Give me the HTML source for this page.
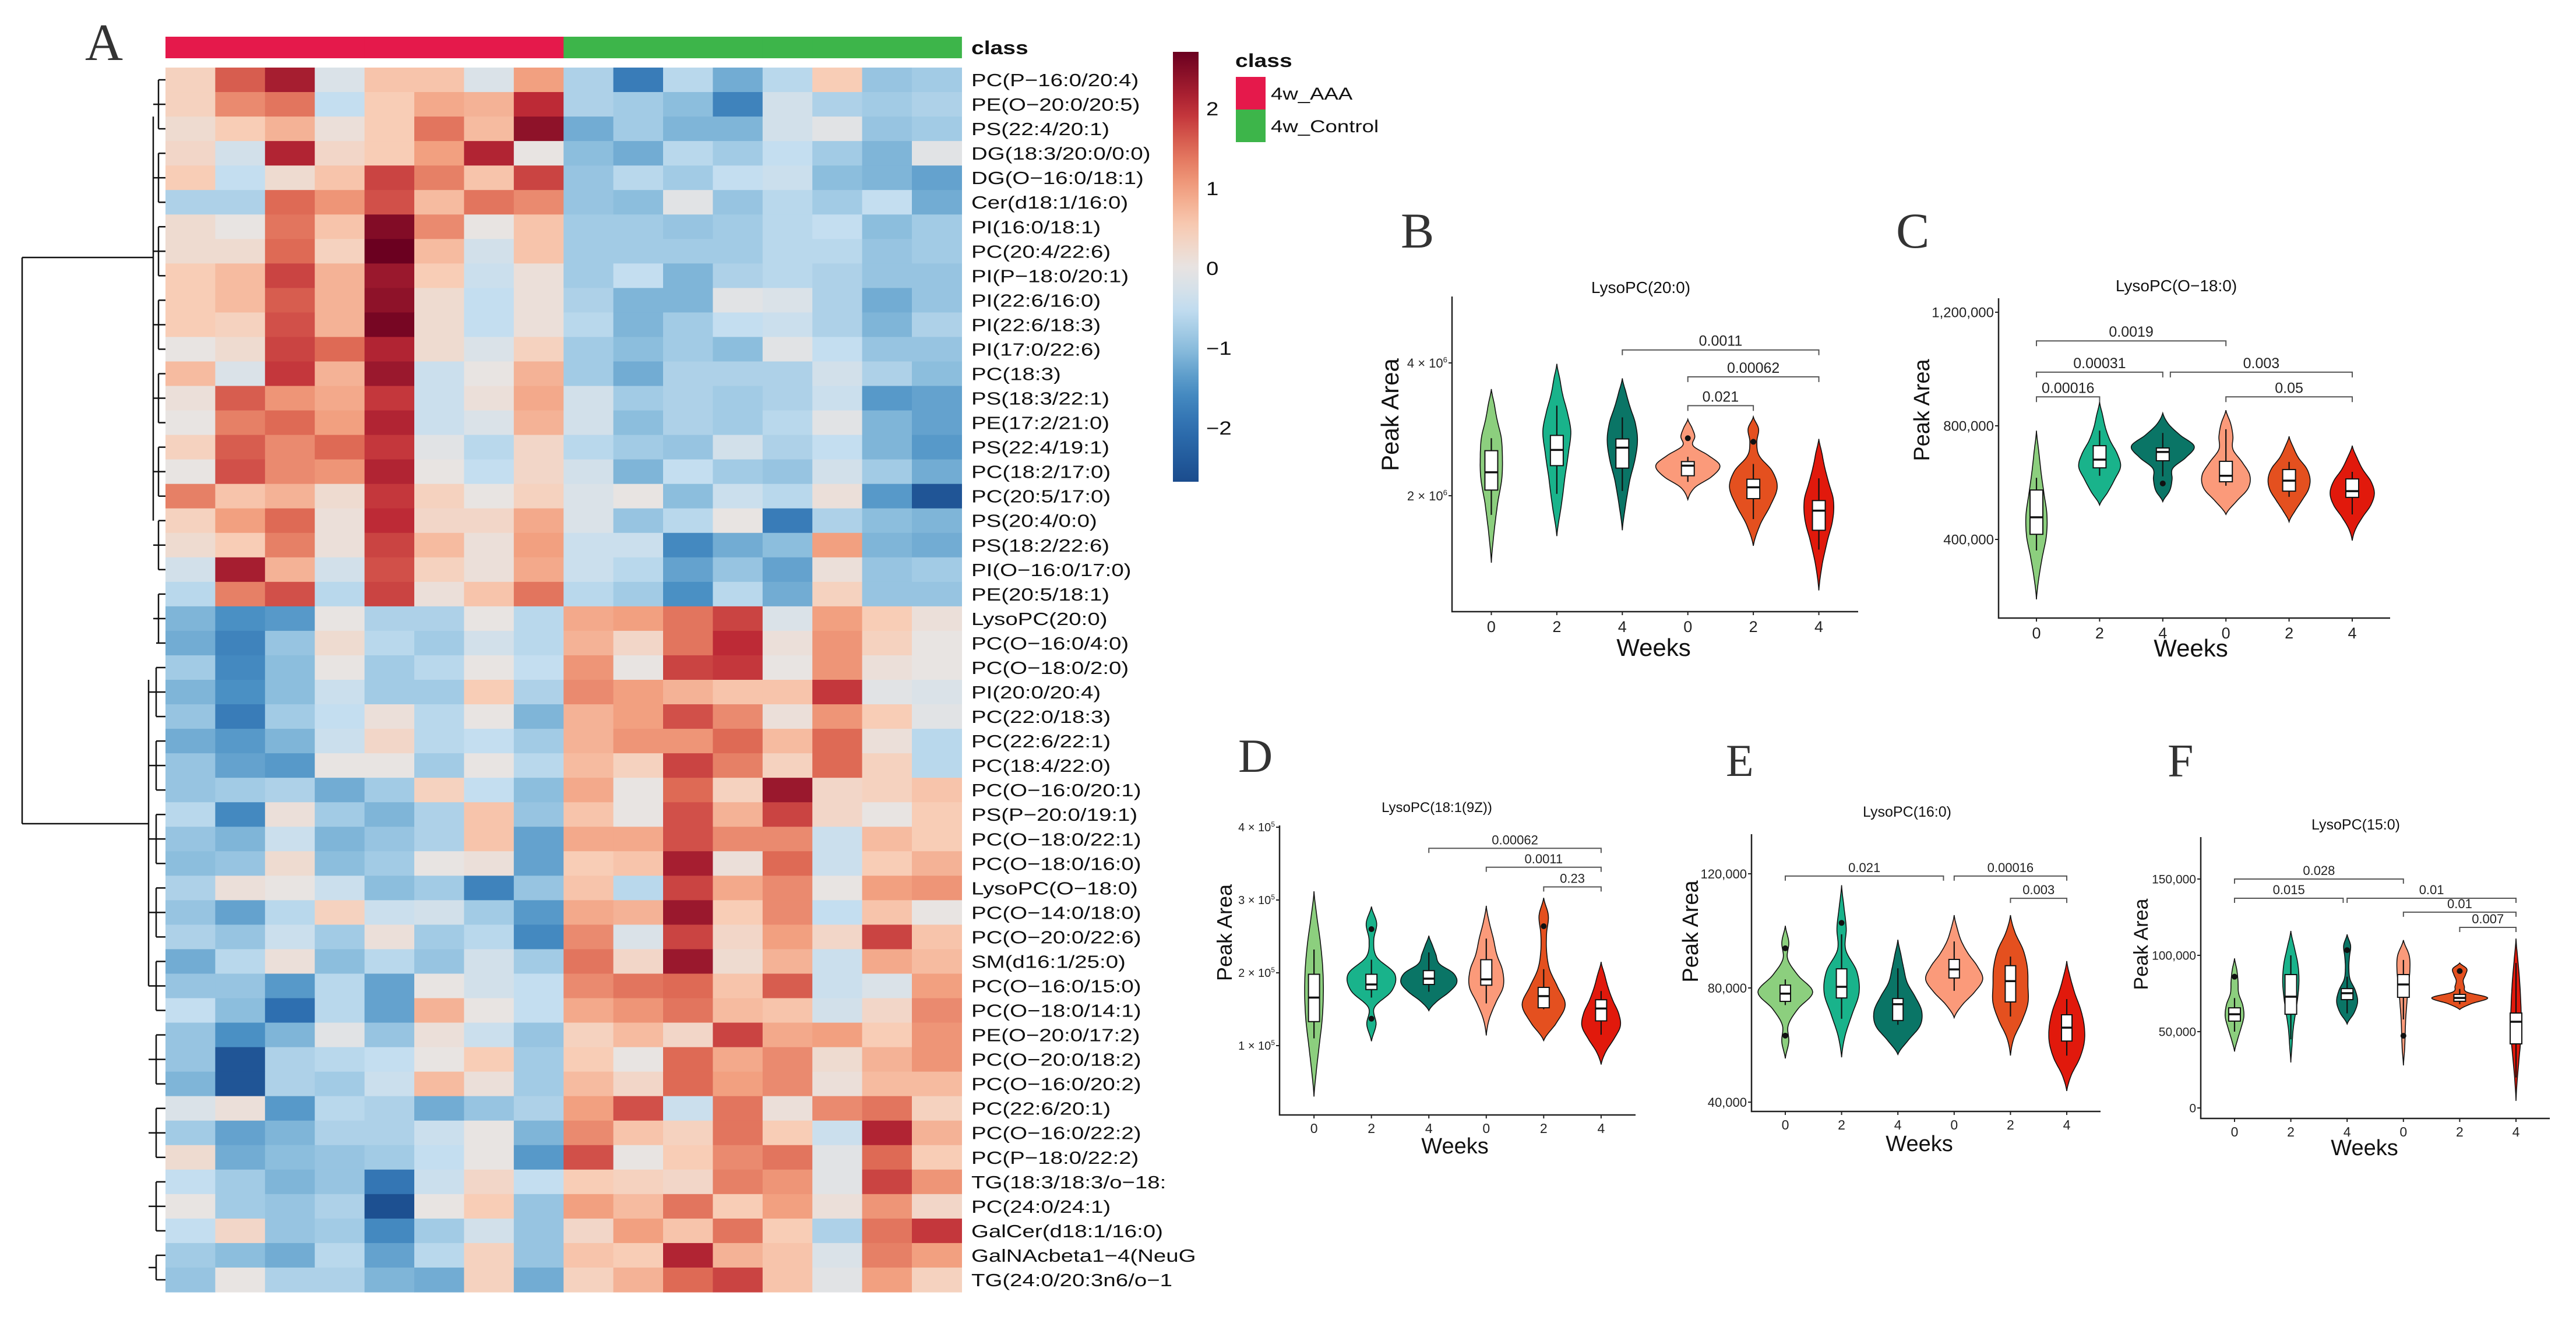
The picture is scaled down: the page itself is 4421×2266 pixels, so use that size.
<!DOCTYPE html>
<html><head><meta charset="utf-8">
<style>
html,body{margin:0;padding:0;background:#fff;}
svg{display:block;font-family:"Liberation Sans",sans-serif;}
</style></head>
<body>
<svg id="fig" xmlns="http://www.w3.org/2000/svg" width="4421" height="2266" viewBox="0 0 4421 2266">
<rect x="0" y="0" width="4421" height="2266" fill="#fff"/>
<g id="heat"></g>
<g id="panels"></g>
</svg>
<script>
// ===== Heatmap data =====
const rowLabels = ["PC(P−16:0/20:4)","PE(O−20:0/20:5)","PS(22:4/20:1)","DG(18:3/20:0/0:0)","DG(O−16:0/18:1)","Cer(d18:1/16:0)","PI(16:0/18:1)","PC(20:4/22:6)","PI(P−18:0/20:1)","PI(22:6/16:0)","PI(22:6/18:3)","PI(17:0/22:6)","PC(18:3)","PS(18:3/22:1)","PE(17:2/21:0)","PS(22:4/19:1)","PC(18:2/17:0)","PC(20:5/17:0)","PS(20:4/0:0)","PS(18:2/22:6)","PI(O−16:0/17:0)","PE(20:5/18:1)","LysoPC(20:0)","PC(O−16:0/4:0)","PC(O−18:0/2:0)","PI(20:0/20:4)","PC(22:0/18:3)","PC(22:6/22:1)","PC(18:4/22:0)","PC(O−16:0/20:1)","PS(P−20:0/19:1)","PC(O−18:0/22:1)","PC(O−18:0/16:0)","LysoPC(O−18:0)","PC(O−14:0/18:0)","PC(O−20:0/22:6)","SM(d16:1/25:0)","PC(O−16:0/15:0)","PC(O−18:0/14:1)","PE(O−20:0/17:2)","PC(O−20:0/18:2)","PC(O−16:0/20:2)","PC(22:6/20:1)","PC(O−16:0/22:2)","PC(P−18:0/22:2)","TG(18:3/18:3/o−18:","PC(24:0/24:1)","GalCer(d18:1/16:0)","GalNAcbeta1−4(NeuG","TG(24:0/20:3n6/o−1"];
const sampleClass = ["AAA","AAA","AAA","AAA","AAA","AAA","AAA","AAA","Control","Control","Control","Control","Control","Control","Control","Control"];
const heatValues = [
[0.4,1.6,2.2,-0.2,0.6,0.6,-0.2,1.0,-0.7,-1.8,-0.6,-1.2,-0.6,0.5,-0.9,-0.8],
[0.4,1.2,1.4,-0.5,0.5,0.9,0.8,2.0,-0.7,-0.8,-1.0,-1.7,-0.3,-0.7,-0.8,-0.7],
[0.2,0.5,0.8,0.1,0.5,1.4,0.7,2.4,-1.2,-0.8,-1.1,-1.1,-0.3,-0.1,-0.9,-0.8],
[0.3,-0.3,2.1,0.3,0.5,1.0,2.1,0.0,-1.0,-1.2,-0.6,-0.8,-0.5,-0.8,-1.1,-0.1],
[0.5,-0.5,0.2,0.6,1.8,1.3,0.6,1.8,-0.9,-0.6,-0.8,-0.5,-0.4,-1.0,-1.1,-1.3],
[-0.7,-0.7,1.5,1.1,1.7,0.7,1.4,1.2,-0.9,-1.0,-0.1,-0.9,-0.6,-0.8,-0.5,-1.2],
[0.2,0.0,1.4,0.6,2.5,1.2,0.0,0.6,-0.8,-0.8,-0.9,-0.8,-0.6,-0.5,-1.0,-0.8],
[0.2,0.2,1.5,0.4,2.7,0.7,-0.3,0.6,-0.8,-0.8,-0.8,-0.8,-0.6,-0.6,-0.9,-0.8],
[0.5,0.7,1.8,0.8,2.3,0.5,-0.4,0.1,-0.8,-0.5,-1.1,-0.7,-0.6,-0.7,-0.9,-0.9],
[0.5,0.7,1.6,0.8,2.4,0.2,-0.5,0.1,-0.7,-1.1,-1.1,-0.1,-0.2,-0.7,-1.2,-0.9],
[0.5,0.4,1.7,0.8,2.6,0.2,-0.5,0.1,-0.6,-1.1,-0.8,-0.5,-0.4,-0.7,-1.1,-0.7],
[0.0,0.2,1.8,1.5,2.1,0.2,-0.2,0.4,-0.8,-1.0,-0.8,-1.0,-0.1,-0.5,-0.9,-0.9],
[0.7,-0.2,1.9,0.8,2.3,-0.4,0.0,0.8,-0.8,-1.2,-0.7,-0.7,-0.7,-0.3,-0.7,-1.0],
[0.1,1.6,1.1,0.9,1.9,-0.4,0.1,0.9,-0.3,-0.8,-0.7,-0.8,-0.7,-0.4,-1.4,-1.3],
[0.0,1.3,1.5,1.0,2.1,-0.4,-0.2,0.8,-0.3,-1.0,-0.7,-0.8,-0.6,-0.1,-1.1,-1.3],
[0.4,1.6,1.2,1.5,1.9,-0.1,-0.6,0.3,-0.6,-0.8,-0.9,-0.3,-0.7,-0.5,-1.1,-1.4],
[0.0,1.7,1.2,1.1,2.1,0.0,-0.5,0.3,-0.3,-1.1,-0.5,-0.8,-0.9,-0.3,-0.8,-1.2],
[1.3,0.6,0.8,0.2,1.9,0.4,0.0,0.4,-0.2,0.0,-1.0,-0.4,-0.6,0.1,-1.4,-2.5],
[0.4,1.0,1.5,0.1,2.0,0.3,0.3,0.9,-0.2,-0.9,-0.6,0.0,-1.8,-0.7,-1.0,-1.1],
[0.2,0.5,1.3,0.1,1.8,0.7,0.1,1.0,-0.4,-0.4,-1.6,-1.2,-1.0,1.0,-1.1,-1.2],
[-0.3,2.2,0.8,-0.3,1.7,0.4,0.1,0.9,-0.4,-0.6,-1.3,-0.9,-1.3,0.1,-0.9,-0.8],
[-0.6,1.3,1.7,-0.6,1.8,0.1,0.6,1.4,-0.6,-0.8,-1.5,-0.6,-1.2,0.4,-0.9,-0.9],
[-1.1,-1.5,-1.4,0.0,-0.7,-0.7,0.0,-0.6,0.9,1.0,1.4,1.8,-0.2,1.0,0.5,0.1],
[-1.2,-1.7,-0.9,0.2,-0.6,-0.8,-0.3,-0.6,0.8,0.3,1.4,2.0,0.1,1.1,0.4,0.0],
[-0.8,-1.6,-1.0,0.0,-0.8,-0.6,0.0,-0.5,1.1,0.0,1.8,1.9,0.0,1.1,0.1,0.0],
[-1.1,-1.5,-1.0,-0.4,-0.8,-0.8,0.5,-0.7,1.2,1.0,0.8,0.6,0.6,1.9,-0.1,-0.2],
[-0.9,-1.8,-0.8,-0.5,0.1,-0.6,0.0,-1.1,0.8,1.0,1.7,1.2,0.1,1.1,0.5,-0.1],
[-1.2,-1.4,-1.1,-0.4,0.3,-0.6,-0.5,-0.8,0.8,1.1,1.1,1.5,0.7,1.5,0.1,-0.6],
[-0.9,-1.3,-1.4,0.0,0.0,-0.8,0.0,-0.6,0.7,0.4,1.8,1.3,0.4,1.5,0.4,-0.6],
[-0.9,-0.8,-0.7,-1.2,-0.8,0.4,-0.5,-1.0,0.9,0.0,1.5,0.4,2.3,0.3,0.4,0.6],
[-0.6,-1.6,0.1,-0.8,-1.1,-0.7,0.6,-0.9,0.6,0.0,1.7,0.8,1.8,0.3,0.0,0.5],
[-0.9,-1.1,-0.4,-1.1,-0.9,-0.7,0.6,-1.3,0.9,0.9,1.7,1.2,1.2,-0.4,0.7,0.5],
[-1.0,-0.9,0.2,-1.0,-0.8,0.0,0.1,-1.3,0.5,0.6,2.2,0.1,1.5,-0.4,0.5,0.8],
[-0.7,0.1,0.0,-0.4,-1.0,-0.8,-1.7,-0.9,0.6,-0.6,1.8,0.9,1.2,0.0,1.0,1.1],
[-0.9,-1.3,-0.6,0.4,-0.4,-0.3,-0.8,-1.4,0.9,0.8,2.3,0.5,1.2,-0.5,0.6,0.0],
[-0.7,-0.9,-0.4,-0.8,0.1,-0.8,-0.6,-1.6,1.2,-0.2,1.8,0.3,1.0,0.3,1.8,0.6],
[-1.2,-0.6,0.1,-1.0,-0.6,-0.9,-0.3,-0.8,1.4,0.3,2.3,0.2,0.8,-0.4,0.9,0.7],
[-0.9,-0.9,-1.4,-0.6,-1.3,0.0,-0.3,-0.5,1.2,1.4,1.5,0.6,1.6,-0.4,-0.2,1.0],
[-0.5,-1.0,-2.0,-0.6,-1.3,0.8,0.0,-0.5,0.9,1.1,1.4,0.7,0.6,-0.3,0.3,1.2],
[-0.9,-1.5,-1.1,-0.1,-0.9,0.1,-0.4,-0.9,0.4,0.7,0.3,1.8,0.9,1.0,0.5,1.1],
[-0.9,-2.5,-0.7,-0.6,-0.5,0.0,0.5,-0.8,0.5,0.0,1.5,0.9,1.2,0.2,0.8,1.1],
[-1.1,-2.5,-0.7,-0.8,-0.4,0.7,0.1,-0.8,0.7,0.3,1.5,1.0,1.2,0.1,0.7,0.7],
[-0.2,0.1,-1.4,-0.6,-0.7,-1.2,-0.9,-0.7,1.0,1.7,-0.4,1.4,0.1,1.2,1.4,0.4],
[-0.8,-1.3,-1.1,-0.7,-0.7,-0.4,0.0,-1.1,1.2,0.6,0.4,1.4,0.5,-0.4,2.1,0.8],
[0.2,-1.2,-1.0,-0.9,-0.8,-0.5,0.0,-1.4,1.7,0.0,0.5,1.2,1.4,-0.1,1.5,0.5],
[-0.5,-0.8,-1.1,-0.9,-1.9,-0.4,0.3,-0.5,0.5,0.4,0.3,1.3,1.1,-0.1,1.8,1.1],
[0.0,-0.8,-0.9,-0.7,-2.6,0.0,0.5,-0.9,1.0,0.7,1.4,0.5,1.0,0.1,1.1,0.3],
[-0.5,0.3,-0.9,-0.8,-1.6,-0.8,-0.3,-0.9,0.3,1.0,0.6,1.4,0.5,-0.7,1.4,1.9],
[-0.8,-1.0,-1.2,-0.6,-1.3,-0.6,0.4,-0.9,0.6,0.5,2.1,0.8,0.6,-0.2,1.3,1.0],
[-0.9,0.0,-0.7,-0.7,-1.1,-1.2,0.4,-1.2,0.4,0.8,1.5,1.8,0.6,-0.1,1.0,0.4]
];
const colorbarTicks = [2,1,0,-1,-2];
const classNames = ["4w_AAA","4w_Control"];

// ===== Violin panel data (values in peak-area units) =====
const catLabels = ["0","2","4","0","2","4"];
const B_lo=[1.41e6,1.62e6,1.67e6,1.96e6,1.54e6,1.22e6];
const B_hi=[3.49e6,3.98e6,3.69e6,2.98e6,3.02e6,2.69e6];
const B_dens=[[0,5,11,18,19,17,10,5,0],[0,8,14,20,24,18,10,5,0],[0,6,13,22,26,22,13,6,0],[0,12,42,55,35,9,12,7,0],[0,12,30,41,32,10,6,9,0],[0,6,15,24,25,17,10,5,0]];
const B_q1=[2.06e6,2.34e6,2.31e6,2.22e6,1.97e6,1.67e6];
const B_med=[2.26e6,2.54e6,2.57e6,2.34e6,2.09e6,1.85e6];
const B_q3=[2.53e6,2.74e6,2.69e6,2.39e6,2.18e6,1.95e6];
const B_wlo=[1.81e6,2.02e6,2.05e6,2.15e6,1.77e6,1.51e6];
const B_whi=[2.70e6,3.20e6,3.01e6,2.45e6,2.36e6,2.19e6];
const B_out=[[],[],[],[2.70e6],[2.65e6],[]];
const B_pv=["0.0011","0.00062","0.021"];
const B_from=[2,3,3], B_to=[5,5,4];
const B_level=[4.28e6,3.72e6,3.2e6];
const B_ticks=[2e6,4e6], B_tickLab=[["2 × 10","6"],["4 × 10","6"]];

const C_lo=[189e3,521e3,533e3,488e3,462e3,396e3];
const C_hi=[783e3,884e3,845e3,855e3,763e3,730e3];
const C_dens=[[0,4,10,17,18,13,8,4,0],[0,14,26,36,30,18,10,5,0],[0,12,16,17,40,54,30,10,0],[0,18,38,41,28,12,12,8,0],[0,10,22,33,36,30,16,7,0],[0,6,18,32,38,32,18,8,0]];
const C_q1=[418e3,652e3,677e3,603e3,570e3,548e3];
const C_med=[478e3,681e3,708e3,624e3,607e3,570e3];
const C_q3=[574e3,730e3,722e3,675e3,646e3,613e3];
const C_wlo=[361e3,624e3,622e3,589e3,550e3,488e3];
const C_whi=[617e3,783e3,775e3,788e3,673e3,638e3];
const C_out=[[],[],[597e3],[],[],[]];
const C_pv=["0.0019","0.00031","0.003","0.00016","0.05"];
const C_from=[0,0,2.12,0,3], C_to=[3,2,5,1,5];
const C_level=[1099e3,989e3,989e3,902e3,902e3];
const C_ticks=[400e3,800e3,1200e3], C_tickLab=[["400,000"],["800,000"],["1,200,000"]];

const D_lo=[30e3,106e3,148e3,114e3,107e3,74e3];
const D_hi=[312e3,291e3,251e3,292e3,303e3,215e3];
const D_dens=[[0,4,9,14,16,15,11,5,0],[0,8,5,35,40,9,4,9,0],[0,14,35,48,42,18,12,6,0],[0,5,16,29,28,18,12,5,0],[0,22,37,24,10,5,5,8,0],[0,8,22,33,30,20,12,6,0]];
const D_q1=[133e3,177e3,184e3,183e3,152e3,134e3];
const D_med=[166e3,184e3,192e3,191e3,168e3,151e3];
const D_q3=[198e3,198e3,203e3,218e3,180e3,163e3];
const D_wlo=[110e3,166e3,174e3,158e3,150e3,115e3];
const D_whi=[232e3,218e3,228e3,247e3,205e3,175e3];
const D_out=[[],[260e3,137e3],[],[],[264e3],[]];
const D_pv=["0.00062","0.0011","0.23"];
const D_from=[2,3,4], D_to=[5,5,5];
const D_level=[371e3,345e3,318e3];
const D_ticks=[1e5,2e5,3e5,4e5], D_tickLab=[["1 × 10","5"],["2 × 10","5"],["3 × 10","5"],["4 × 10","5"]];

const E_lo=[55.3e3,55.7e3,56.7e3,69.6e3,56.3e3,43.9e3];
const E_hi=[101.8e3,116e3,96.9e3,105.5e3,105.5e3,89.4e3];
const E_dens=[[0,6,5,22,47,22,4,6,0],[0,6,18,30,26,7,8,4,0],[0,18,38,41,30,16,10,5,0],[0,14,35,49,40,24,12,5,0],[0,6,20,30,30,29,22,8,0],[0,8,22,30,30,24,14,6,0]];
const E_q1=[75.3e3,76.5e3,68.6e3,83.5e3,75.1e3,61.4e3];
const E_med=[78e3,80.4e3,74.3e3,86.5e3,82.4e3,66.1e3];
const E_q3=[81e3,86.7e3,76.3e3,90e3,87.8e3,70.6e3];
const E_wlo=[74e3,69.2e3,67.1e3,79e3,70e3,56.3e3];
const E_whi=[83e3,98.8e3,86.9e3,96.3e3,91e3,76.1e3];
const E_out=[[93.9e3,63.3e3],[102.8e3],[],[],[],[]];
const E_pv=["0.021","0.00016","0.003"];
const E_from=[0,3,4], E_to=[2.81,5,5];
const E_level=[119.2e3,119.2e3,111.4e3];
const E_ticks=[40e3,80e3,120e3], E_tickLab=[["40,000"],["80,000"],["120,000"]];

const F_lo=[37e3,29.8e3,55e3,27.9e3,64.5e3,4.6e3];
const F_hi=[98e3,116e3,113.7e3,110e3,95e3,111e3];
const F_dens=[[0,5,11,16,14,7,6,4,0],[0,2,4,8,12,14,12,6,0],[0,12,18,14,5,3,4,6,0],[0,2,3,4,6,8,11,10,0],[0,20,48,12,8,6,10,12,0],[0,2,5,8,9,8,6,3,0]];
const F_q1=[56.9e3,61.4e3,71e3,72.5e3,69.9e3,42e3];
const F_med=[61.4e3,72.9e3,75.2e3,80.9e3,72.1e3,56.5e3];
const F_q3=[65.6e3,87.4e3,78.2e3,87.4e3,74.4e3,62.2e3];
const F_wlo=[50e3,45e3,62e3,58e3,68e3,20e3];
const F_whi=[72e3,100e3,86e3,97e3,78e3,95e3];
const F_out=[[86e3],[],[103.4e3],[47.3e3],[89.7e3],[]];
const F_pv=["0.028","0.015","0.01","0.01","0.007"];
const F_from=[0,0,2,3,4], F_to=[3,1.93,5,5,5];
const F_level=[150e3,137.4e3,137.4e3,128.3e3,118.3e3];
const F_ticks=[0,50e3,100e3,150e3], F_tickLab=[["0"],["50,000"],["100,000"],["150,000"]];

// ===== helpers =====
const NS="http://www.w3.org/2000/svg";
function mk(tag, attrs, parent){const e=document.createElementNS(NS,tag);for(const k in attrs)e.setAttribute(k,attrs[k]);if(parent)parent.appendChild(e);return e;}
function txt(parent, x, y, s, size, extra){const t=mk("text",Object.assign({x:x,y:y,"font-size":size,fill:"#111"},extra||{}),parent);t.textContent=s;return t;}

const stops=[[-2.7,[26,75,140]],[-2,[46,111,176]],[-1.5,[74,144,196]],[-1,[140,190,221]],[-0.5,[196,222,240]],[0,[232,228,226]],[0.5,[248,205,182]],[1,[242,160,128]],[1.5,[222,106,85]],[2,[189,42,54]],[2.7,[107,0,32]]];
function heatColor(v){
  if(v<=stops[0][0])return "rgb("+stops[0][1]+")";
  for(let i=1;i<stops.length;i++){if(v<=stops[i][0]){const a=stops[i-1],b=stops[i];const t=(v-a[0])/(b[0]-a[0]);
    return "rgb("+a[1].map((c,j)=>Math.round(c+(b[1][j]-c)*t)).join(",")+")";}}
  return "rgb("+stops[stops.length-1][1]+")";
}

// ===== Heatmap =====
const H=document.getElementById("heat");
const hx0=284, hy0=116, cw=85.4, rh=42.04;
const letterA=txt(H,146,103,"A",90,{"font-family":"Liberation Serif, serif",fill:"#333"});


sampleClass.forEach((c,j)=>{
  const r=mk("rect",{x:hx0+j*cw,y:63,width:cw+0.5,height:37,fill:c==="AAA"?"#e5194b":"#3db54a"},H);
  
  
});
const clsT=txt(H,0,0,"class",32,{"font-weight":"bold",transform:"translate(1667,93) scale(1.22,1)"});


heatValues.forEach((row,i)=>{
  row.forEach((v,j)=>{
    const r=mk("rect",{x:hx0+j*cw,y:hy0+i*rh,width:cw+0.6,height:rh+0.6,fill:heatColor(v)},H);
    
    
  });
  const t=txt(H,0,0,rowLabels[i],31,{transform:`translate(1667,${(hy0+i*rh+rh/2+11).toFixed(1)}) scale(1.24,1)`});
  
  
});
const dg=mk("g",{stroke:"#111","stroke-width":2.5,fill:"none"},H);


const topN=22, nRows=heatValues.length;
function rowY(i){return hy0+i*rh+rh/2;}
mk("line",{x1:38,y1:442,x2:38,y2:1414},dg);
mk("line",{x1:38,y1:442,x2:263,y2:442},dg);
mk("line",{x1:38,y1:1414,x2:255,y2:1414},dg);
mk("line",{x1:263,y1:rowY(1.5),x2:263,y2:rowY(18)},dg);
mk("line",{x1:255,y1:rowY(24.5),x2:255,y2:rowY(37)},dg);
for(let i=0;i<nRows;i++){
  const xa=(i<topN)?272:268;
  mk("line",{x1:xa,y1:rowY(i),x2:284,y2:rowY(i)},dg);
}
for(let b=0;b<nRows;b+=3){
  const e=Math.min(b+2,nRows-1);
  const xa=(b<topN)?272:268;
  mk("line",{x1:xa,y1:rowY(b),x2:xa,y2:rowY(e)},dg);
  mk("line",{x1:(b<topN)?263:255,y1:rowY((b+e)/2),x2:xa,y2:rowY((b+e)/2)},dg);
}
const defs=mk("defs",{},document.getElementById("fig"));
const lg=mk("linearGradient",{id:"cbg",x1:0,y1:0,x2:0,y2:1},defs);
const cbTop=89, cbBot=827, cbMax=2.71, cbMin=-2.68;
for(let k=0;k<=20;k++){const v=cbMax-(cbMax-cbMin)*k/20;mk("stop",{offset:(k/20),"stop-color":heatColor(v)},lg);}
const cb=mk("rect",{x:2013,y:cbTop,width:44,height:cbBot-cbTop,fill:"url(#cbg)"},H);


colorbarTicks.forEach(v=>{
  const y=cbTop+(cbMax-v)/(cbMax-cbMin)*(cbBot-cbTop);
  const t=txt(H,0,0,String(v).replace("-","−"),32,{transform:`translate(2070,${(y+12).toFixed(1)}) scale(1.2,1)`});
  
  
});
const lgT=txt(H,0,0,"class",32,{"font-weight":"bold",transform:"translate(2120,115) scale(1.22,1)"});


classNames.forEach((n,k)=>{
  const g=mk("g",{},H);
  
  
  mk("rect",{x:2121,y:132+k*56,width:51,height:56,fill:k===0?"#e5194b":"#3db54a"},g);
  txt(g,0,0,n,30,{transform:`translate(2181,${171+k*56}) scale(1.22,1)`});
});

// ===== Violin panels =====
const groupColors=["#8ccf7e","#19b38b","#0a7566","#fb9a7a","#e4501f","#e1190c"];
const P=document.getElementById("panels");
function makeScale(cfg){
  if(cfg.log){const k=(cfg.refY2-cfg.refY1)/Math.log2(cfg.refV2/cfg.refV1);return v=>cfg.refY1+k*Math.log2(v/cfg.refV1);}
  const k=(cfg.refY2-cfg.refY1)/(cfg.refV2-cfg.refV1);return v=>cfg.refY1+k*(v-cfg.refV1);
}
function hermite(ys,ws,n){
  const out=[];const m=ys.length;
  for(let i=0;i<m-1;i++){
    const p0=ws[Math.max(0,i-1)],p1=ws[i],p2=ws[i+1],p3=ws[Math.min(m-1,i+2)];
    for(let s=0;s<n;s++){const t=s/n;
      const w=0.5*((2*p1)+(-p0+p2)*t+(2*p0-5*p1+4*p2-p3)*t*t+(-p0+3*p1-3*p2+p3)*t*t*t);
      out.push([ys[i]+(ys[i+1]-ys[i])*t,Math.max(0,w)]);}
  }
  out.push([ys[m-1],ws[m-1]]);return out;
}
function drawPanel(cfg,d){
  const g=mk("g",{},P);
  
  
  const y=makeScale(cfg);
  const step=(cfg.ax1-cfg.ax0)/6.2;
  const cx=i=>cfg.ax0+(i+0.6)*step;
  const L=txt(g,cfg.letterX,cfg.letterY,cfg.id.toUpperCase(),cfg.letterSize,{"font-family":"Liberation Serif, serif",fill:"#333"});
  
  
  const T=txt(g,cfg.titleX,cfg.titleY,cfg.title,cfg.titleSize,{"text-anchor":"middle"});
  
  
  const ax=mk("path",{d:`M${cfg.ax0},${cfg.ay0} V${cfg.ay1} H${cfg.ax1}`,stroke:"#222","stroke-width":2.5,fill:"none"},g);
  
  
  d.ticks.forEach((v,k)=>{
    const yy=y(v);
    mk("line",{x1:cfg.ax0-6,y1:yy,x2:cfg.ax0,y2:yy,stroke:"#222","stroke-width":2},g);
    const t=mk("text",{x:cfg.ax0-8,y:yy+cfg.tickSize*0.36,"font-size":cfg.tickSize,"text-anchor":"end",fill:"#222"},g);
    
    
    const lab=d.tickLab[k];
    if(lab.length===2){t.appendChild(document.createTextNode(lab[0]));const sp=mk("tspan",{"font-size":cfg.tickSize*0.6,dy:-cfg.tickSize*0.4},t);sp.textContent=lab[1];}
    else t.textContent=lab[0];
  });
  catLabels.forEach((c,i)=>{
    mk("line",{x1:cx(i),y1:cfg.ay1,x2:cx(i),y2:cfg.ay1+6,stroke:"#222","stroke-width":2},g);
    const t=txt(g,cx(i),cfg.ay1+cfg.xtSize+8,c,cfg.xtSize,{"text-anchor":"middle",fill:"#222"});
    
    
  });
  const W=txt(g,cfg.titleX+cfg.weeksDx,cfg.ay1+cfg.weeksDy,"Weeks",cfg.weeksSize,{"text-anchor":"middle"});
  
  
  const PA=txt(g,0,0,"Peak Area",cfg.paSize,{"text-anchor":"middle",transform:`translate(${cfg.paX},${cfg.paY}) rotate(-90)`});
  
  
  for(let i=0;i<6;i++){
    const vg=mk("g",{},g);
    
    
    const n=d.dens[i].length, ys=[];
    for(let k=0;k<n;k++)ys.push(y(d.lo[i]+(d.hi[i]-d.lo[i])*k/(n-1)));
    const pts=hermite(ys,d.dens[i].map(w=>w*cfg.wScale),8);
    let p="M"+pts.map(q=>(cx(i)+q[1]).toFixed(1)+","+q[0].toFixed(1)).join(" L");
    p+=" L"+pts.slice().reverse().map(q=>(cx(i)-q[1]).toFixed(1)+","+q[0].toFixed(1)).join(" L")+"Z";
    const vp=mk("path",{d:p,fill:groupColors[i],stroke:"#111","stroke-width":1.6},vg);
    
    
    mk("line",{x1:cx(i),y1:y(d.wlo[i]),x2:cx(i),y2:y(d.whi[i]),stroke:"#111","stroke-width":2.2},vg);
    const bw=cfg.boxW;
    const bx=mk("rect",{x:cx(i)-bw/2,y:y(d.q3[i]),width:bw,height:y(d.q1[i])-y(d.q3[i]),fill:"#fff",stroke:"#111","stroke-width":2},vg);
    
    
    mk("line",{x1:cx(i)-bw/2,y1:y(d.med[i]),x2:cx(i)+bw/2,y2:y(d.med[i]),stroke:"#111","stroke-width":3.5},vg);
    d.out[i].forEach(o=>{
      const c=mk("circle",{cx:cx(i),cy:y(o),r:5,fill:"#111"},vg);
      
      
    });
  }
  d.pv.forEach((s,k)=>{
    const bg=mk("g",{},g);
    
    
    const yy=y(d.level[k]), x1=cx(d.from[k]), x2=cx(d.to[k]);
    mk("path",{d:`M${x1},${yy+cfg.tick} V${yy} H${x2} V${yy+cfg.tick}`,stroke:"#555","stroke-width":2,fill:"none"},bg);
    txt(bg,(x1+x2)/2,yy-7,s,cfg.pSize,{"text-anchor":"middle",fill:"#222"});
  });
}
const dataB={lo:B_lo,hi:B_hi,dens:B_dens,q1:B_q1,med:B_med,q3:B_q3,wlo:B_wlo,whi:B_whi,out:B_out,pv:B_pv,from:B_from,to:B_to,level:B_level,ticks:B_ticks,tickLab:B_tickLab};
const dataC={lo:C_lo,hi:C_hi,dens:C_dens,q1:C_q1,med:C_med,q3:C_q3,wlo:C_wlo,whi:C_whi,out:C_out,pv:C_pv,from:C_from,to:C_to,level:C_level,ticks:C_ticks,tickLab:C_tickLab};
const dataD={lo:D_lo,hi:D_hi,dens:D_dens,q1:D_q1,med:D_med,q3:D_q3,wlo:D_wlo,whi:D_whi,out:D_out,pv:D_pv,from:D_from,to:D_to,level:D_level,ticks:D_ticks,tickLab:D_tickLab};
const dataE={lo:E_lo,hi:E_hi,dens:E_dens,q1:E_q1,med:E_med,q3:E_q3,wlo:E_wlo,whi:E_whi,out:E_out,pv:E_pv,from:E_from,to:E_to,level:E_level,ticks:E_ticks,tickLab:E_tickLab};
const dataF={lo:F_lo,hi:F_hi,dens:F_dens,q1:F_q1,med:F_med,q3:F_q3,wlo:F_wlo,whi:F_whi,out:F_out,pv:F_pv,from:F_from,to:F_to,level:F_level,ticks:F_ticks,tickLab:F_tickLab};

drawPanel({id:"b",log:true,refV1:2e6,refY1:851,refV2:4e6,refY2:623,ax0:2492,ax1:3189,ay0:509,ay1:1050,
  letterX:2404,letterY:425,letterSize:86,title:"LysoPC(20:0)",titleX:2816,titleY:503,titleSize:28,
  tickSize:22,xtSize:27,weeksSize:42,weeksDx:22,weeksDy:76,paSize:42,paX:2400,paY:712,boxW:22,wScale:1,pSize:25,tick:9},dataB);
drawPanel({id:"c",log:false,refV1:400e3,refY1:926,refV2:800e3,refY2:731,ax0:3430,ax1:4102,ay0:512,ay1:1061,
  letterX:3254,letterY:425,letterSize:86,title:"LysoPC(O−18:0)",titleX:3735,titleY:500,titleSize:28,
  tickSize:24,xtSize:27,weeksSize:42,weeksDx:25,weeksDy:66,paSize:38,paX:3311,paY:704,boxW:22,wScale:1,pSize:25,tick:9},dataC);
drawPanel({id:"d",log:false,refV1:1e5,refY1:1795,refV2:2e5,refY2:1670,ax0:2196,ax1:2807,ay0:1417,ay1:1914,
  letterX:2125,letterY:1325,letterSize:82,title:"LysoPC(18:1(9Z))",titleX:2466,titleY:1394,titleSize:24,
  tickSize:20,xtSize:23,weeksSize:38,weeksDx:31,weeksDy:66,paSize:36,paX:2114,paY:1601,boxW:19,wScale:1,pSize:22,tick:8},dataD);
drawPanel({id:"e",log:false,refV1:80e3,refY1:1696,refV2:120e3,refY2:1500,ax0:3006,ax1:3605,ay0:1432,ay1:1908,
  letterX:2962,letterY:1332,letterSize:78,title:"LysoPC(16:0)",titleX:3273,titleY:1402,titleSize:25,
  tickSize:22,xtSize:23,weeksSize:38,weeksDx:21,weeksDy:68,paSize:38,paX:2914,paY:1599,boxW:18,wScale:1,pSize:22,tick:8},dataE);
drawPanel({id:"f",log:false,refV1:0,refY1:1902,refV2:150e3,refY2:1509,ax0:3777,ax1:4376,ay0:1437,ay1:1920,
  letterX:3720,letterY:1333,letterSize:80,title:"LysoPC(15:0)",titleX:4043,titleY:1424,titleSize:25,
  tickSize:21,xtSize:23,weeksSize:38,weeksDx:15,weeksDy:63,paSize:34,paX:3686,paY:1621,boxW:20,wScale:1,pSize:22,tick:8},dataF);
</script>
</body></html>
